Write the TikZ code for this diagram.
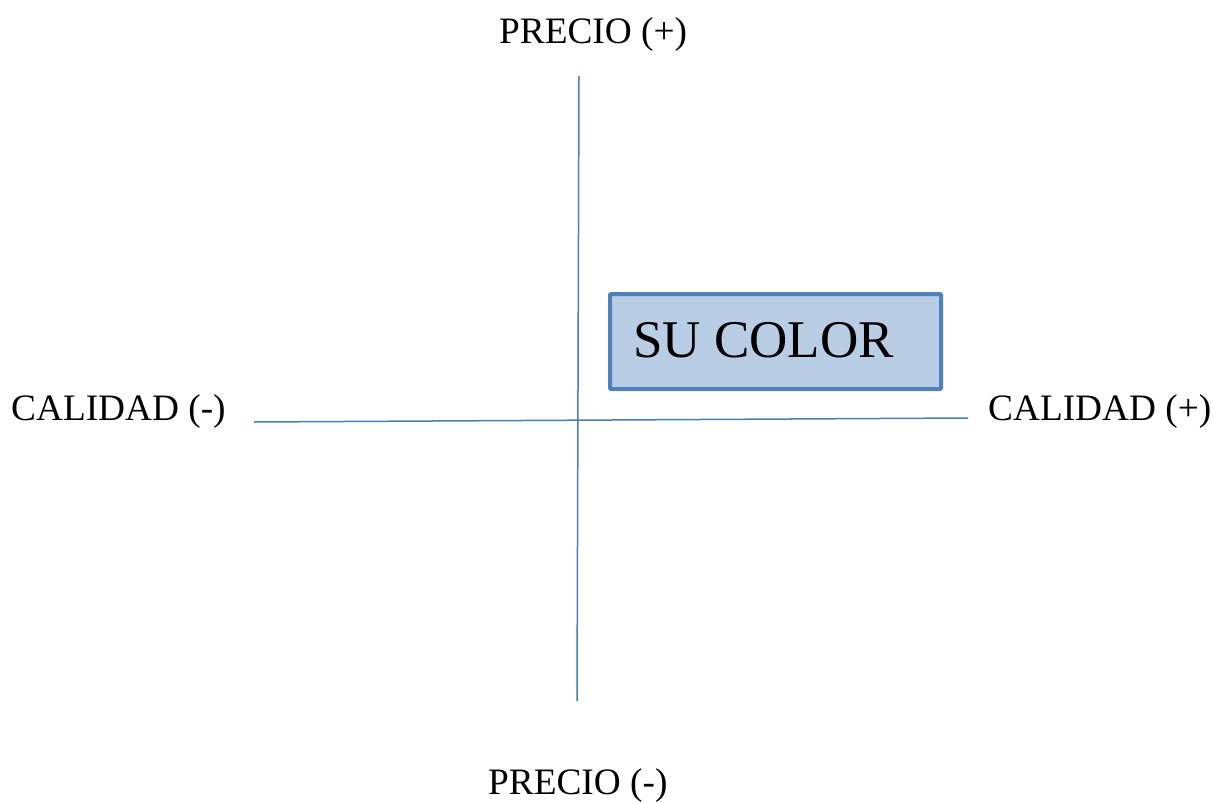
\documentclass[tikz,border=0pt]{standalone}
\usepackage{fontspec}
\setmainfont{Liberation Serif}
\definecolor{axisblue}{HTML}{4A7EBB}
\definecolor{boxfill}{HTML}{B9CDE5}
\definecolor{boxdraw}{HTML}{4F81BD}
\begin{document}
\begin{tikzpicture}[x=1pt,y=-1pt,
  lbl/.style={anchor=base west,inner sep=0pt,font=\fontsize{37.3}{40}\selectfont},
  axisline/.style={draw=axisblue,line width=1.5pt},
  colorbox/.style={draw=boxdraw,fill=boxfill,line width=4pt,rounded corners=1pt}]
\useasboundingbox (0,0) rectangle (1213,803);
\coordinate (vtop) at (579,76);
\coordinate (vbot) at (577,701);
\coordinate (hl) at (254,422);
\coordinate (hr) at (968,418);
\draw[axisline] (vtop) -- (vbot);
\draw[axisline] (hl) -- (hr);
\draw[colorbox] (610,294) rectangle (941,389);
\node[anchor=base west,inner sep=0pt,font=\fontsize{53}{56}\selectfont] (su) at (633,357) {SU COLOR};
\node[lbl] (ptop) at (499,43) {PRECIO (+)};
\node[lbl] (pbot) at (488,794) {PRECIO (-)};
\node[lbl] (cl) at (11,420) {CALIDAD (-)};
\node[lbl] (cr) at (988,420) {CALIDAD (+)};
\end{tikzpicture}
\end{document}
